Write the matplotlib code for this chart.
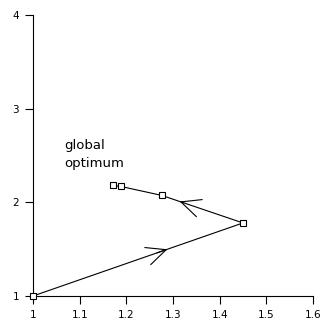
import matplotlib
matplotlib.use("Agg")
import matplotlib.pyplot as plt

# data
path_x = [1.0, 1.45, 1.276, 1.188, 1.171]
path_y = [1.0, 1.78, 2.074, 2.17, 2.18]
x_ticks = [1, 1.1, 1.2, 1.3, 1.4, 1.5, 1.6]
x_tick_labels = ["1", "1.1", "1.2", "1.3", "1.4", "1.5", "1.6"]
y_ticks = [1, 2, 3, 4]
y_tick_labels = ["1", "2", "3", "4"]
label_text = "global\noptimum"

fig = plt.figure(figsize=(3.22, 3.27), dpi=100)
ax = fig.add_axes([0.1025, 0.0948, 0.8695, 0.8592])

ax.plot(path_x, path_y, color="black", lw=0.8, marker="s", ms=5,
        mfc="white", mec="black", mew=0.8, clip_on=False, zorder=3)

# direction arrows on the first two segments
arrow_specs = [(0, 0.64), (1, 0.78)]
for seg, frac in arrow_specs:
    x0, y0 = path_x[seg], path_y[seg]
    x1, y1 = path_x[seg + 1], path_y[seg + 1]
    tx = x0 + frac * (x1 - x0)
    ty = y0 + frac * (y1 - y0)
    bx = x0 + (frac - 0.05) * (x1 - x0)
    by = y0 + (frac - 0.05) * (y1 - y0)
    ax.annotate("", xy=(tx, ty), xytext=(bx, by),
                arrowprops=dict(arrowstyle="->,head_length=1.4,head_width=0.65",
                                color="black", lw=0.8, shrinkA=0, shrinkB=0))

ax.text(1.066, 2.675, label_text, ha="left", va="top", fontsize=9.5,
        linespacing=1.5)

ax.set_xlim(1, 1.6)
ax.set_ylim(1, 4)
ax.set_xticks(x_ticks)
ax.set_xticklabels(x_tick_labels)
ax.set_yticks(y_ticks)
ax.set_yticklabels(y_tick_labels)
ax.spines["top"].set_visible(False)
ax.spines["right"].set_visible(False)
for s in ("left", "bottom"):
    ax.spines[s].set_linewidth(0.8)
ax.tick_params(direction="out", length=6, width=0.8, labelsize=7.5, pad=4)

fig.savefig("out.png", dpi=100)
